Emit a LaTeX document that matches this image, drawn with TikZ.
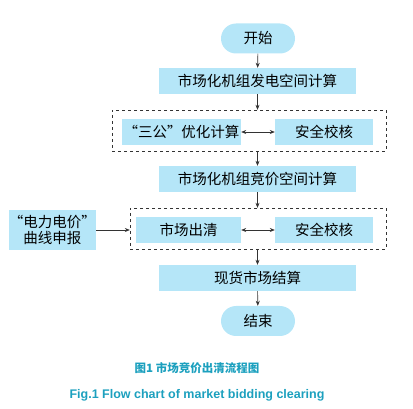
\documentclass[tikz,border=0pt]{standalone}
\usepackage{fontspec}
\setmainfont{Noto Sans CJK SC}
\newfontfamily\capfont{Liberation Sans}
\usetikzlibrary{arrows.meta,shapes,positioning,fit}
\definecolor{boxblue}{HTML}{B5E6F8}
\definecolor{captealc}{HTML}{1CA0BE}
\definecolor{linegray}{HTML}{333333}
\begin{document}
\begin{tikzpicture}[x=1pt,y=-1pt,
    stepbox/.style={rectangle, fill=boxblue, inner sep=0pt, minimum height=26pt, font=\fontsize{14.5}{16}\selectfont},
    termbox/.style={rounded rectangle, fill=boxblue, inner sep=0pt, minimum width=74pt, minimum height=30pt, font=\fontsize{14.5}{16}\selectfont},
    groupbox/.style={rectangle, draw=linegray, dashed, inner sep=0pt, minimum height=41pt},
    flow/.style={draw=linegray, semithick, -{Stealth[length=5pt,width=4pt]}},
    twoway/.style={draw=linegray, semithick, {Stealth[length=5pt,width=4pt]}-{Stealth[length=5pt,width=4pt]}}]
    \useasboundingbox (0,0) rectangle (413,409);
    % Main flow
    \node[termbox] (start) at (258,38.5) {开始};
    \node[stepbox, minimum width=197pt] (gen) at (257.5,81) {市场化机组发电空间计算};
    \node[groupbox, minimum width=274pt] (grpa) at (249,130.5) {};
    \node[stepbox, minimum width=119pt] (opt) at (181.5,132) {“三公”优化计算};
    \node[stepbox, minimum width=98pt] (secA) at (324,132) {安全校核};
    \node[stepbox, minimum width=197pt] (bid) at (257.5,179) {市场化机组竞价空间计算};
    \node[groupbox, minimum width=256pt] (grpb) at (258,228.5) {};
    \node[stepbox, minimum width=105pt] (clear) at (188.5,230) {市场出清};
    \node[stepbox, minimum width=98pt] (secB) at (324,230) {安全校核};
    \node[stepbox, minimum width=87pt, minimum height=40pt, align=center, font=\fontsize{14.5}{16}\selectfont] (curve) at (52.5,230) {“电力电价”\\曲线申报};
    \node[stepbox, minimum width=197pt] (spot) at (257.5,278) {现货市场结算};
    \node[termbox] (stop) at (258,321) {结束};
    % Connectors
    \draw[flow] (start) -- (gen);
    \draw[flow] (gen.south) -- (gen.south |- grpa.north);
    \draw[flow] (gen.south |- grpa.south) -- (bid.north);
    \draw[flow] (bid.south) -- (bid.south |- grpb.north);
    \draw[flow] (bid.south |- grpb.south) -- (spot.north);
    \draw[flow] (spot) -- (stop);
    \draw[flow] (curve) -- (grpb.west |- curve);
    \draw[twoway] (opt) -- (secA);
    \draw[twoway] (clear) -- (secB);
    % Captions
    \node[text=captealc, font=\bfseries\fontsize{11.5}{13}\selectfont] (capcn) at (197,368) {图1 市场竞价出清流程图};
    \node[text=captealc, font=\capfont\bfseries\fontsize{12.5}{14}\selectfont] (capen) at (197,395) {Fig.1 Flow chart of market bidding clearing};
\end{tikzpicture}
\end{document}
